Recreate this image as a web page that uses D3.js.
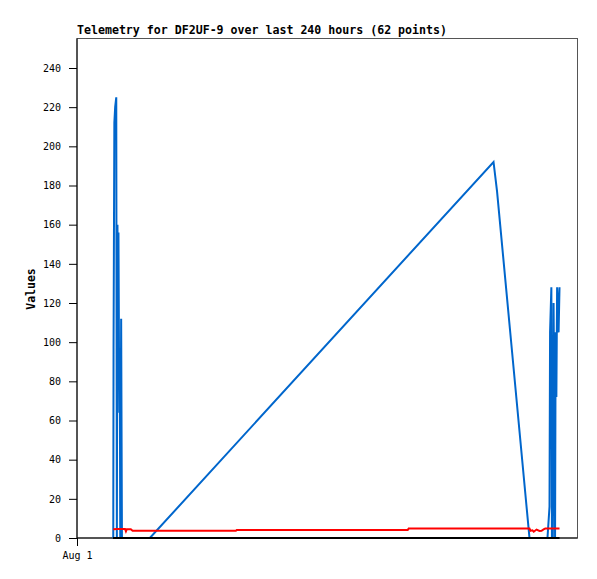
<!DOCTYPE html>
<html>
<head>
<meta charset="utf-8">
<script src="https://cdn.jsdelivr.net/npm/d3@7/dist/d3.min.js"></script>
<style>
  html, body { margin: 0; padding: 0; background: #fff; }
  svg { display: block; }
  text { font-family: "DejaVu Sans Mono", "Liberation Mono", monospace; fill: #000; }
</style>
</head>
<body>
<svg id="chart" width="597" height="579"></svg>
<script>
// ---- data (hours since Aug 1 00:00) ----
const title = "Telemetry for DF2UF-9 over last 240 hours (62 points)";
const yLabel = "Values";
const yTicks = [0, 20, 40, 60, 80, 100, 120, 140, 160, 180, 200, 220, 240];
const xTickLabels = ["Aug 1"];

const blueHours = [19.56, 19.72, 20.15, 20.59, 21.18, 21.5, 21.83, 22.1, 22.37, 22.8, 23.07, 23.33, 23.82, 24.25, 25.9, 39.3,
                   224.7, 226.6, 244.1, 245.7, 249.5, 253.8,
                   254.9, 255.2, 255.9, 256.2, 256.7, 257.1, 257.5, 257.9, 258.2, 258.6, 259.0, 259.4, 259.8, 260.3];
const blueValues = [0, 97, 212, 220, 225, 0, 160, 97, 156, 64, 97, 0, 112, 0, 0, 0,
                    192, 177, 0, 0, 0, 0,
                    16, 105, 128, 0, 0, 120, 64, 0, 105, 72, 128, 120, 105, 128];

const redHours = [19.5, 22.0, 25.9, 26.4, 26.9, 29.0, 30.0, 85.7, 86.2, 178.4, 178.9, 244.1, 244.6, 245.7, 246.4,
                  247.9, 249.5, 250.6, 251.7, 252.6, 254.4, 260.3];
const redValues = [4.5, 4.6, 4.6, 3.4, 4.5, 4.5, 3.7, 3.7, 4.1, 4.1, 4.8, 4.8, 3.7, 3.9, 3.2,
                   4.3, 3.6, 3.7, 4.4, 4.8, 4.8, 4.8];

const blackHours = [19.4, 260.3];
const blackValues = [0, 0];

// ---- layout ----
const svg = d3.select("#chart");
const L = 77, R = 577.5, T = 38.5, B = 538;
const t0 = new Date(Date.UTC(2023, 7, 1, 0, 0, 0));
const toDate = h => new Date(t0.getTime() + h * 3600e3);

const x = d3.scaleUtc().domain([t0, toDate(270)]).range([L, R]);
const y = d3.scaleLinear().domain([0, 240]).range([B, 68]);

// frame
svg.append("rect")
  .attr("x", L).attr("y", T).attr("width", R - L).attr("height", B - T)
  .attr("fill", "none").attr("stroke", "#555").attr("stroke-width", 1);

// y axis
const yAxis = d3.axisLeft(y).tickValues(yTicks).tickSize(8).tickPadding(8).tickFormat(d3.format("d"));
const gy = svg.append("g").attr("transform", `translate(${L},0)`).call(yAxis);
gy.select(".domain").attr("d", `M0,${T}V${B}`).attr("stroke", "#000");
gy.selectAll(".tick line").attr("stroke", "#000");
gy.selectAll(".tick text").attr("font-size", "10px").attr("fill", "#000");

// x axis
const xAxis = d3.axisBottom(x).tickValues([t0]).tickSize(8).tickPadding(6)
  .tickFormat((d, i) => xTickLabels[i]);
const gx = svg.append("g").attr("transform", `translate(0,${B})`).call(xAxis);
gx.select(".domain").attr("d", `M${L},0H${R}`).attr("stroke", "#000");
gx.selectAll(".tick line").attr("stroke", "#000");
gx.selectAll(".tick text").attr("font-size", "10px").attr("fill", "#000");

// lines
const line = d3.line().x(d => x(toDate(d[0]))).y(d => y(d[1]));
const blue = blueHours.map((h, i) => [h, blueValues[i]]);
const red = redHours.map((h, i) => [h, redValues[i]]);
const black = blackHours.map((h, i) => [h, blackValues[i]]);

svg.append("path").datum(blue).attr("d", line)
  .attr("fill", "none").attr("stroke", "#0066cc").attr("stroke-width", 2);
svg.append("path").datum(red).attr("d", line)
  .attr("fill", "none").attr("stroke", "#ff0000").attr("stroke-width", 2);
svg.append("path").datum(black).attr("d", line)
  .attr("fill", "none").attr("stroke", "#000").attr("stroke-width", 2);

// title
svg.append("text").attr("x", L).attr("y", 34)
  .attr("font-size", "12.3px").attr("font-weight", "bold")
  .attr("textLength", 370).attr("lengthAdjust", "spacingAndGlyphs").text(title);

// y label
svg.append("text").attr("transform", "translate(35,289) rotate(-90)")
  .attr("text-anchor", "middle").attr("font-size", "11.5px").attr("font-weight", "bold").text(yLabel);
</script>
</body>
</html>
